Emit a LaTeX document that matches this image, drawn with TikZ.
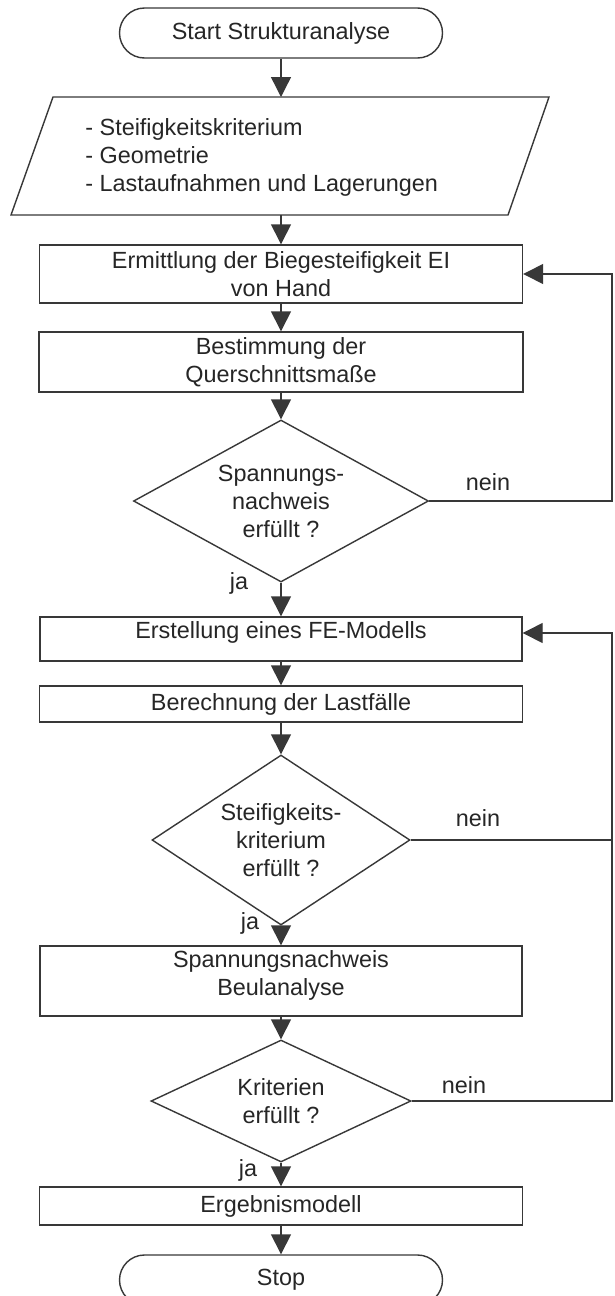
\documentclass[tikz,border=0pt]{standalone}
\usepackage{fontspec}
\setmainfont{Liberation Sans}
\usetikzlibrary{shapes.geometric,shapes.misc,arrows.meta}
\definecolor{ink}{gray}{0.15}
\definecolor{linec}{gray}{0.22}
\begin{document}
\begin{tikzpicture}[x=0.5pt,y=-0.5pt,
  every node/.style={font=\fontsize{11.7pt}{14pt}\selectfont, text=ink},
  box/.style={draw=linec, line width=0.7pt, rectangle, inner sep=0pt, align=center},
  term/.style={draw=linec, line width=0.7pt, rounded rectangle, inner sep=0pt, minimum width=161.5pt, minimum height=25pt},
  dec/.style={draw=linec, line width=0.7pt, diamond, inner sep=0pt, align=center},
  arr/.style={draw=linec, line width=0.7pt, -{Triangle[length=10pt,width=10pt]}},
  conn/.style={draw=linec, line width=0.7pt},
  lab/.style={inner sep=0pt, align=center}]

\clip (0,0) rectangle (615,1296);
\fill[white] (0,0) rectangle (615,1296);

% nodes
\node[term] (start) at (281,33) {Start Strukturanalyse};
\coordinate (pn) at (281,97);
\coordinate (ps) at (281,215);
\draw[conn] (11,215) -- (53,97) -- (549,97) -- (508,215) -- cycle;
\node[lab, align=left, anchor=west] (para) at (85,157) {- Steifigkeitskriterium\\- Geometrie\\- Lastaufnahmen und Lagerungen};

\node[box, minimum width=241.5pt, minimum height=29pt] (b1) at (281,274) {Ermittlung der Biegesteifigkeit EI\\von Hand};
\node[box, minimum width=242pt, minimum height=30pt] (b2) at (281,362) {Bestimmung der\\Querschnittsmaße};
\node[dec, minimum width=147.5pt, minimum height=81pt, shape aspect=1.82] (d1) at (281,501) {Spannungs-\\nachweis\\erfüllt ?};
\node[box, minimum width=241pt, minimum height=22pt] (b3) at (281,639) {};
\node[lab] (b3t) at (281,632) {Erstellung eines FE-Modells};
\node[box, minimum width=241.5pt, minimum height=18pt] (b4) at (281,704) {Berechnung der Lastfälle};
\node[dec, minimum width=129pt, minimum height=85pt, shape aspect=1.52] (d2) at (281,840) {Steifigkeits-\\kriterium\\erfüllt ?};
\node[box, minimum width=241pt, minimum height=35pt] (b5) at (281,981) {};
\node[lab] (b5t) at (281,975) {Spannungsnachweis\\Beulanalyse};
\node[dec, minimum width=130pt, minimum height=61pt, shape aspect=2.13] (d3) at (281,1101) {Kriterien\\erfüllt ?};
\node[box, minimum width=241.5pt, minimum height=19pt] (b6) at (281,1206) {Ergebnismodell};
\node[term] (stop) at (281,1280) {Stop};

\coordinate (rx) at (612,0);

% main flow
\draw[arr] (start.south) -- (pn);
\draw[arr] (ps) -- (b1.north);
\draw[arr] (b1.south) -- (b2.north);
\draw[arr] (b2.south) -- (d1.north);
\draw[arr] (d1.south) -- (b3.north);
\draw[arr] (b3.south) -- (b4.north);
\draw[arr] (b4.south) -- (d2.north);
\draw[arr] (d2.south) -- (b5.north);
\draw[arr] (b5.south) -- (d3.north);
\draw[arr] (d3.south) -- (b6.north);
\draw[arr] (b6.south) -- (stop.north);

% loops
\draw[arr] (d1.east) -- (d1.east -| rx) |- (b1.east);
\draw[arr] (d2.east) -- (d2.east -| rx) |- ([yshift=3pt]b3.east);
\draw[conn] (d3.east) -- (d3.east -| rx) -- (d2.east -| rx);

% labels
\node[lab] (n1) at (488,482) {nein};
\node[lab] (j1) at (239,583) {ja};
\node[lab] (n2) at (478,818) {nein};
\node[lab] (j2) at (250,923) {ja};
\node[lab] (n3) at (464,1085) {nein};
\node[lab] (j3) at (248,1170) {ja};
\end{tikzpicture}
\end{document}
